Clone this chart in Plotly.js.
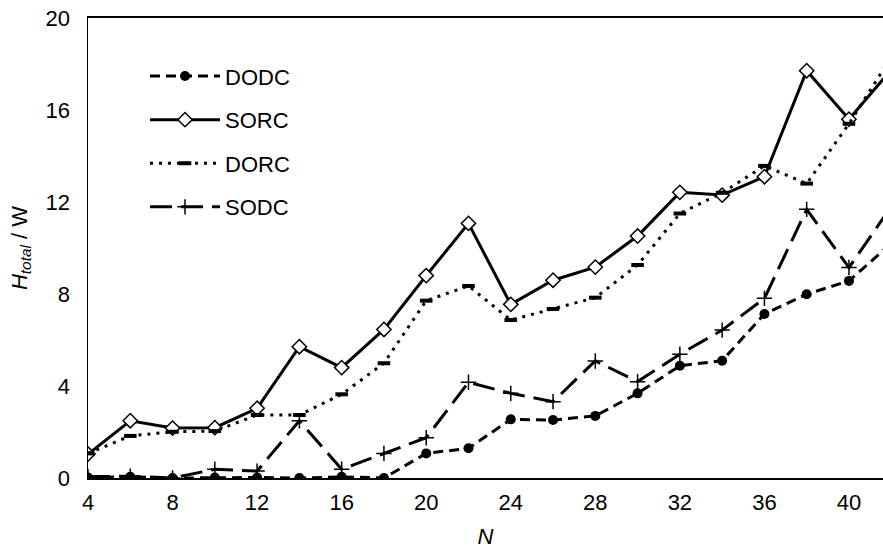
<!DOCTYPE html>
<html>
<head>
<meta charset="utf-8">
<script src="https://cdn.plot.ly/plotly-3.0.1.min.js"></script>
<style>
  html, body { margin: 0; padding: 0; background: #fff; }
  #chart { width: 883px; height: 554px; }
</style>
</head>
<body>
<div id="chart"></div>
<script>
// Data
const N = [4, 6, 8, 10, 12, 14, 16, 18, 20, 22, 24, 26, 28, 30, 32, 34, 36, 38, 40, 42];
const DODC = [0.02, 0.05, 0.0, 0.02, 0.02, 0.0, 0.05, 0.0, 1.07, 1.29, 2.55, 2.52, 2.70, 3.68, 4.88, 5.10, 7.13, 7.99, 8.57, 10.2];
const SORC = [1.04, 2.49, 2.17, 2.19, 3.03, 5.71, 4.80, 6.46, 8.80, 11.07, 7.55, 8.60, 9.17, 10.52, 12.42, 12.30, 13.10, 17.71, 15.60, 17.75];
const DORC = [1.07, 1.83, 2.01, 2.04, 2.74, 2.74, 3.64, 4.99, 7.71, 8.35, 6.87, 7.35, 7.84, 9.26, 11.50, 12.40, 13.57, 12.80, 15.40, 18.3];
const SODC = [0.06, 0.08, 0.0, 0.38, 0.30, 2.49, 0.38, 1.07, 1.75, 4.16, 3.68, 3.32, 5.09, 4.19, 5.38, 6.43, 7.81, 11.68, 9.15, 11.8];
const xTicks = [4, 8, 12, 16, 20, 24, 28, 32, 36, 40];
const yTicks = [0, 4, 8, 12, 16, 20];

const FONT = 'Liberation Sans, Arial, sans-serif';
const FS = 22;

const traces = [
  {
    name: 'DODC', x: N, y: DODC, mode: 'lines+markers', legendgroup: 'a',
    line: { color: '#000', width: 3, dash: '10px,6px' },
    marker: { symbol: 'circle', size: 10, color: '#000' }
  },
  {
    name: 'SORC', x: N, y: SORC, mode: 'lines+markers', legendgroup: 'b',
    line: { color: '#000', width: 3 },
    marker: { symbol: 'diamond', size: 11, color: '#fff', line: { color: '#000', width: 1.5 } }
  },
  {
    name: 'DORC', x: N, y: DORC, mode: 'lines+markers', legendgroup: 'c',
    line: { color: '#000', width: 3, dash: '3px,6px' },
    marker: { symbol: 'line-ew', size: 9, color: '#000', line: { color: '#000', width: 4 } }
  },
  {
    name: 'SODC', x: N, y: SODC, mode: 'lines+markers', legendgroup: 'd',
    line: { color: '#000', width: 3, dash: '22px,9px' },
    marker: { symbol: 'cross-thin', size: 11, color: '#000', line: { color: '#000', width: 1.5 } }
  }
];

const layout = {
  width: 883, height: 554,
  margin: { l: 88, r: 0, t: 18, b: 76 },
  paper_bgcolor: '#fff', plot_bgcolor: '#fff',
  font: { family: FONT, size: FS, color: '#000' },
  showlegend: true,
  legend: {
    x: 0.0717, y: 0.919, xanchor: 'left', yanchor: 'top',
    bgcolor: 'rgba(0,0,0,0)', font: { family: FONT, size: FS, color: '#000' },
    tracegroupgap: 12, itemwidth: 70
  },
  xaxis: {
    range: [4, 41.61], tickmode: 'array', tickvals: xTicks, ticktext: xTicks.map(String),
    showgrid: false, zeroline: false, showline: true, linecolor: '#000', linewidth: 2,
    mirror: true, ticks: '', ticklabelstandoff: 4,
    tickfont: { family: FONT, size: FS, color: '#000' },
    title: { text: '<i>N</i>', font: { family: FONT, size: FS, color: '#000' }, standoff: 14 }
  },
  yaxis: {
    range: [0, 20], tickmode: 'array', tickvals: yTicks, ticktext: yTicks.map(String),
    showgrid: false, zeroline: false, showline: true, linecolor: '#000', linewidth: 1.5,
    ticks: '', ticklabelstandoff: 12,
    tickfont: { family: FONT, size: FS, color: '#000' },
    title: { text: '<i>H<sub>total</sub></i> / W', font: { family: FONT, size: FS, color: '#000' }, standoff: 12 }
  }
};

Plotly.newPlot('chart', traces, layout, { staticPlot: true, displayModeBar: false });
</script>
</body>
</html>
